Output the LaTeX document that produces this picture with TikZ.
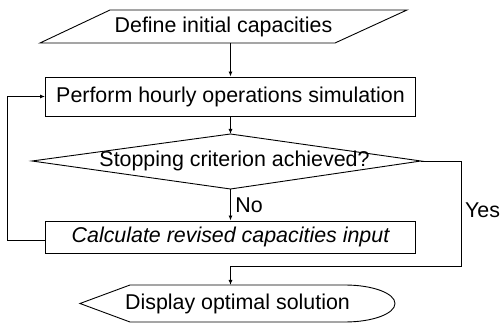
\documentclass[tikz,border=0pt]{standalone}
\usepackage{fontspec}
\setmainfont{Liberation Sans}
\usetikzlibrary{arrows.meta,calc}
\begin{document}
\begin{tikzpicture}[x=1pt,y=-1pt,
  line width=0.9pt,
  every node/.style={font=\fontsize{21.4}{25}\selectfont, inner sep=0pt},
  procbox/.style={draw, rectangle, line width=0.9pt, minimum width=370pt},
  arr/.style={-{Latex[length=5pt,width=4pt]}}]
\useasboundingbox (0,0) rectangle (501,323);
% input parallelogram
\coordinate (pTL) at (110,10);
\coordinate (pTR) at (407,10);
\coordinate (pBR) at (335,43);
\coordinate (pBL) at (40,43);
\draw (pTL) -- (pTR) -- (pBR) -- (pBL) -- cycle;
\node (tdef) at (223.5,26.5) {Define initial capacities};
\coordinate (pB) at (230.5,43);
% process box
\node[procbox, minimum height=39pt] (b1) at (230.5,96.5) {Perform hourly operations simulation};
% decision diamond
\coordinate (dT) at (230.5,134);
\coordinate (dR) at (421,161);
\coordinate (dB) at (230.5,189);
\coordinate (dL) at (32,161);
\draw (dT) -- (dR) -- (dB) -- (dL) -- cycle;
\node (tstop) at (234.5,161) {Stopping criterion achieved?};
% revise box
\node[procbox, minimum height=32pt] (b2) at (230.5,237) {\itshape Calculate revised capacities input};
% display shape
\coordinate (sL) at (80,303.5);
\coordinate (sTL) at (130,285);
\coordinate (sTR) at (345,285);
\coordinate (sBR) at (345,322);
\coordinate (sBL) at (130,322);
\coordinate (sT) at (230.5,285);
\draw (sL) -- (sTL) -- (sTR) arc[start angle=90, end angle=-90, x radius=50, y radius=-18.5] -- (sBL) -- cycle;
\node (tdisp) at (237.5,303.5) {Display optimal solution};
% connectors
\draw[arr] (pB) -- (b1.north);
\draw[arr] (b1.south) -- (dT);
\draw[arr] (dB) -- (b2.north);
\node[anchor=west] (lno) at (235,205) {No};
\coordinate (fbs) at ($(b2.west)+(0,3)$);
\coordinate (lc) at (7,240);
\draw[arr] (fbs) -- (lc) |- (b1.west);
\coordinate (yc) at (461,266);
\draw[arr] (dR) -| (yc) -- ($(sT)+(0,-19)$) -- (sT);
\node[anchor=east] (lyes) at (500.5,210) {Yes};
\end{tikzpicture}
\end{document}
